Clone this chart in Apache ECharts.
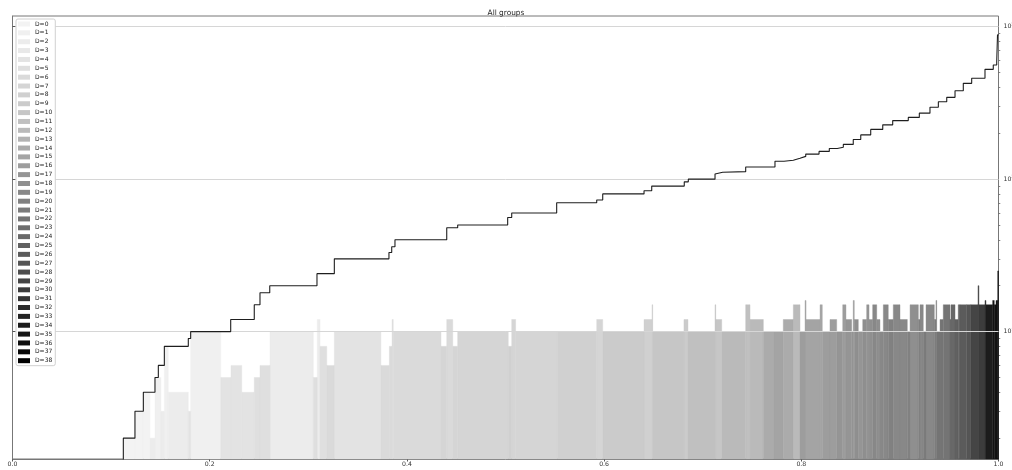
<!DOCTYPE html>
<html>
<head>
<meta charset="utf-8">
<script src="https://cdn.jsdelivr.net/npm/echarts@6/dist/echarts.min.js"></script>
<style>
  html, body { margin: 0; padding: 0; background: #fff; }
  #chart { width: 1012px; height: 470px; }
</style>
</head>
<body>
<div id="chart"></div>
<script>
// Group labels (legend order)
const groupNames = [
  'D=0','D=1','D=2','D=3','D=4','D=5','D=6','D=7','D=8','D=9',
  'D=10','D=11','D=12','D=13','D=14','D=15','D=16','D=17','D=18','D=19',
  'D=20','D=21','D=22','D=23','D=24','D=25','D=26','D=27','D=28','D=29',
  'D=30','D=31','D=32','D=33','D=34','D=35','D=36','D=37','D=38'
];

// Bar segments: bar i spans barEdges[i] .. barEdges[i+1]
const barEdges = [
  0.1124,0.1242,0.1327,0.1395,0.1445,0.1506,0.1540,0.1580,0.1783,0.1807,
  0.2112,0.2216,0.2325,0.2452,0.2510,0.2612,0.3051,0.3091,0.3119,0.3187,
  0.3264,0.3737,0.3822,0.3849,0.3862,0.4346,0.4404,0.4465,0.4515,0.5028,
  0.5063,0.5103,0.5525,0.5925,0.5986,0.6405,0.6486,0.6493,0.6810,0.6851,
  0.7125,0.7132,0.7193,0.7436,0.7480,0.7615,0.7723,0.7817,0.7919,0.7987,
  0.8038,0.8048,0.8190,0.8213,0.8291,0.8359,0.8420,0.8453,0.8511,0.8527,
  0.8537,0.8578,0.8623,0.8663,0.8687,0.8724,0.8765,0.8798,0.8832,0.8882,
  0.8933,0.9001,0.9075,0.9103,0.9187,0.9204,0.9237,0.9265,0.9349,0.9366,
  0.9373,0.9407,0.9440,0.9508,0.9518,0.9559,0.9592,0.9609,0.9677,0.9718,
  0.9792,0.9802,0.9863,0.9873,0.9941,0.9957,0.9975,0.9992,1.0
];
const barValues = [
  2,3,4,2,5,3,8,4,3,10,
  5,6,4,5,6,10,5,12,8,6,
  10,6,8,12,10,8,12,8,10,8,
  12,10,10,12,10,12,15,10,12,10,
  15,12,10,15,12,10,10,12,15,10,
  16,12,15,10,12,10,15,12,10,16,
  12,10,12,15,12,15,12,10,15,12,
  15,12,10,15,12,15,10,15,12,16,
  10,12,15,12,15,12,15,15,15,15,
  20,15,16,15,16,15,16,25
];
const barGroups = [
  0,0,0,2,1,2,1,2,4,1,
  4,4,4,5,5,2,5,2,5,6,
  4,6,6,5,6,7,6,7,7,8,
  7,7,8,7,9,8,9,10,9,11,
  11,10,12,11,12,14,15,14,12,16,
  15,15,15,16,16,17,16,17,17,17,
  18,17,18,17,18,19,18,19,19,20,
  19,19,20,18,20,19,21,19,21,20,
  22,22,22,24,24,25,25,26,27,29,
  28,30,31,34,35,35,36,37
];

// Sorted values (step curve)
const lineX = [
  0,0.1124,0.1242,0.1327,0.1445,0.1479,0.1540,0.1783,0.1807,
  0.2213,0.2452,0.2510,0.2609,0.3088,0.3264,0.3818,0.3846,0.3879,
  0.4404,0.4515,0.5022,0.5063,0.5519,0.5925,0.5986,0.6405,0.6483,
  0.6813,0.6854,0.7125,0.7142,0.7203,0.7436,0.7733,0.7825,0.7919,
  0.7987,0.8045,0.8180,0.8284,0.8365,0.8426,0.8527,0.8603,0.8704,
  0.8826,0.8927,0.9085,0.9197,0.9305,0.9390,0.9475,0.9559,0.9643,
  0.9728,0.9863,0.9947,0.9982,0.9990,1.0
];
const lineY = [
  1,2,3,4,5,6,8,9,10,
  12,15,18,20,24,30,33,36,40,
  48,50,56,60,70,73,80,84,90,
  96,100,108,111,112,120,131,133,137,
  141,146,152,159,162,169,182,195,212,
  227,242,254,271,296,322,344,380,425,
  459,525,561,589,883,883
];

const xTicks = [0, 0.2, 0.4, 0.6, 0.8, 1.0];
const yMajorTicks = [10, 100, 1000];
const yMinorTicks = [2,3,4,5,6,7,8,9,20,30,40,50,60,70,80,90,200,300,400,500,600,700,800,900];

const Y_MIN = 1.46;
const Y_MAX = 1175;

// Greys colour ramp (sampled from 10% to 100%), light to dark
const greyStops = [255, 240, 217, 189, 150, 115, 82, 37, 0];
function greyFor(d) {
  const frac = 0.1 + 0.9 * d / (groupNames.length - 1);
  const t = frac * (greyStops.length - 1);
  const i = Math.min(greyStops.length - 2, Math.floor(t));
  const f = t - i;
  const g = Math.round(greyStops[i] + (greyStops[i + 1] - greyStops[i]) * f);
  return 'rgb(' + g + ',' + g + ',' + g + ')';
}

function renderBar(params, api) {
  const top = api.coord([api.value(0), api.value(2)]);
  const base = api.coord([api.value(1), Y_MIN]);
  const color = api.visual('color');
  return {
    type: 'rect',
    shape: { x: top[0], y: top[1], width: base[0] - top[0], height: base[1] - top[1] },
    style: { fill: color, stroke: color, lineWidth: 0.4 }
  };
}

const barSeries = groupNames.map(function (name, d) {
  const data = [];
  for (let i = 0; i < barValues.length; i++) {
    if (barGroups[i] === d) data.push([barEdges[i], barEdges[i + 1], barValues[i]]);
  }
  return {
    name: name,
    type: 'custom',
    xAxisIndex: 0,
    yAxisIndex: 0,
    z: 1,
    silent: true,
    itemStyle: { color: greyFor(d) },
    encode: { x: [0, 1], y: 2 },
    renderItem: renderBar,
    data: data
  };
});

const stepSeries = {
  name: 'sorted',
  type: 'line',
  xAxisIndex: 0,
  yAxisIndex: 0,
  step: 'end',
  symbol: 'none',
  silent: true,
  clip: true,
  z: 10,
  lineStyle: { color: '#1e1e1e', width: 1.1 },
  data: lineX.map(function (x, i) { return [x, lineY[i]]; })
};

const chart = echarts.init(document.getElementById('chart'), null, { renderer: 'canvas' });
chart.setOption({
  animation: false,
  backgroundColor: '#ffffff',
  title: {
    text: 'All groups',
    left: 'center',
    top: 5,
    textStyle: { fontFamily: 'DejaVu Sans', fontSize: 7.4, fontWeight: 'normal', color: '#222' }
  },
  grid: {
    left: 12.5, right: 13.5, top: 16, bottom: 11,
    outerBoundsMode: 'none',
    containLabel: false,
    show: true, borderColor: '#777', borderWidth: 1, backgroundColor: 'transparent'
  },
  legend: {
    data: groupNames,
    orient: 'vertical',
    left: 16,
    top: 19,
    padding: [2, 3, 2, 2],
    icon: 'rect',
    itemWidth: 12,
    itemHeight: 5,
    itemGap: 2.86,
    selectedMode: false,
    backgroundColor: '#ffffff',
    borderColor: '#d0d0d0',
    borderWidth: 1,
    borderRadius: 2,
    textStyle: { fontFamily: 'DejaVu Sans', fontSize: 6, lineHeight: 6, color: '#222' }
  },
  xAxis: {
    type: 'value',
    min: 0,
    max: 1,
    interval: 0.2,
    axisLine: { show: true, lineStyle: { color: '#777', width: 1 } },
    axisTick: { show: true, length: 2.5, lineStyle: { color: '#555' } },
    axisLabel: {
      fontFamily: 'DejaVu Sans', fontSize: 6.2, color: '#333', margin: 2.5,
      customValues: xTicks,
      formatter: function (v) { return v.toFixed(1); }
    },
    splitLine: { show: false }
  },
  yAxis: [
    {
      type: 'log',
      logBase: 10,
      position: 'right',
      min: Y_MIN,
      max: Y_MAX,
      z: 3,
      axisLine: { show: true, lineStyle: { color: '#777', width: 1 } },
      axisTick: { show: true, length: 3, customValues: yMajorTicks, lineStyle: { color: '#555' } },
      axisLabel: {
        customValues: yMajorTicks,
        margin: 5,
        fontFamily: 'DejaVu Sans',
        color: '#333',
        formatter: function (v) {
          return '{b|10}{s|' + Math.round(Math.log10(v)) + '}';
        },
        rich: {
          b: { fontFamily: 'DejaVu Sans', fontSize: 6.2, color: '#333' },
          s: { fontFamily: 'DejaVu Sans', fontSize: 4.5, color: '#333', padding: [0, 0, 4, 0] }
        }
      },
      splitLine: { show: true, lineStyle: { color: '#d6d6d6', width: 1 } }
    },
    {
      type: 'log',
      logBase: 10,
      position: 'right',
      min: Y_MIN,
      max: Y_MAX,
      axisLine: { show: false },
      axisTick: { show: true, length: 1.8, customValues: yMinorTicks, lineStyle: { color: '#666', width: 0.8 } },
      axisLabel: { show: false },
      splitLine: { show: false }
    }
  ],
  series: barSeries.concat([stepSeries])
});
</script>
</body>
</html>
